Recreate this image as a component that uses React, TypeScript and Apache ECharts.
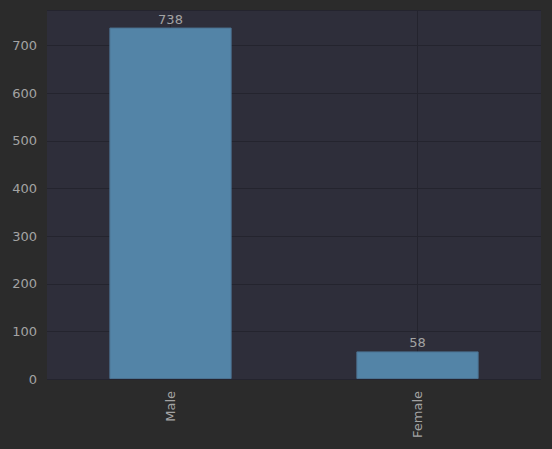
import React, { useEffect, useRef } from "react";
import * as echarts from "echarts";

const categories = ["Male", "Female"];
const counts = [738, 58];
const yMax = 774.9;

export default function App() {
  const ref = useRef<HTMLDivElement>(null);
  useEffect(() => {
    const chart = echarts.init(ref.current!, null, { renderer: "svg" });
    const txt = "#a3a3a3";
    const gridColor = "#24242e";
    chart.setOption({
      animation: false,
      backgroundColor: "#2b2b2b",
      textStyle: { fontFamily: "DejaVu Sans" },
      grid: {
        left: 47,
        right: 11,
        top: 10,
        bottom: 70,
        show: true,
        backgroundColor: "#2e2e3a",
        borderWidth: 0,
      },
      xAxis: {
        type: "category",
        data: categories,
        axisLine: { show: false },
        axisTick: { show: false },
        splitLine: { show: false },
        axisLabel: {
          rotate: 90,
          color: txt,
          fontSize: 13,
          margin: 12,
          fontFamily: "DejaVu Sans",
        },
      },
      yAxis: {
        type: "value",
        min: 0,
        max: yMax,
        interval: 100,
        axisLine: { show: false },
        axisTick: { show: false },
        splitLine: { show: true, lineStyle: { color: gridColor, width: 1 } },
        axisLabel: {
          color: txt,
          fontSize: 13,
          margin: 10,
          fontFamily: "DejaVu Sans",
          showMaxLabel: false,
        },
      },
      series: [
        {
          type: "line",
          data: categories.map(() => "-"),
          z: 1,
          silent: true,
          markLine: {
            z: 1,
            silent: true,
            symbol: "none",
            label: { show: false },
            lineStyle: { color: gridColor, width: 1, type: "solid" },
            data: categories.map((c) => ({ xAxis: c })),
          },
        },
        {
          type: "bar",
          data: counts,
          z: 3,
          barWidth: "49.5%",
          itemStyle: {
            color: "#5384a7",
            borderColor: "#4b7190",
            borderWidth: 1,
          },
          label: {
            show: true,
            position: "top",
            distance: 2,
            color: txt,
            fontSize: 13,
            fontFamily: "DejaVu Sans",
          },
        },
      ],
    });
    return () => chart.dispose();
  }, []);
  return <div ref={ref} style={{ width: 552, height: 449, position: "absolute", left: 0, top: 0 }} />;
}
